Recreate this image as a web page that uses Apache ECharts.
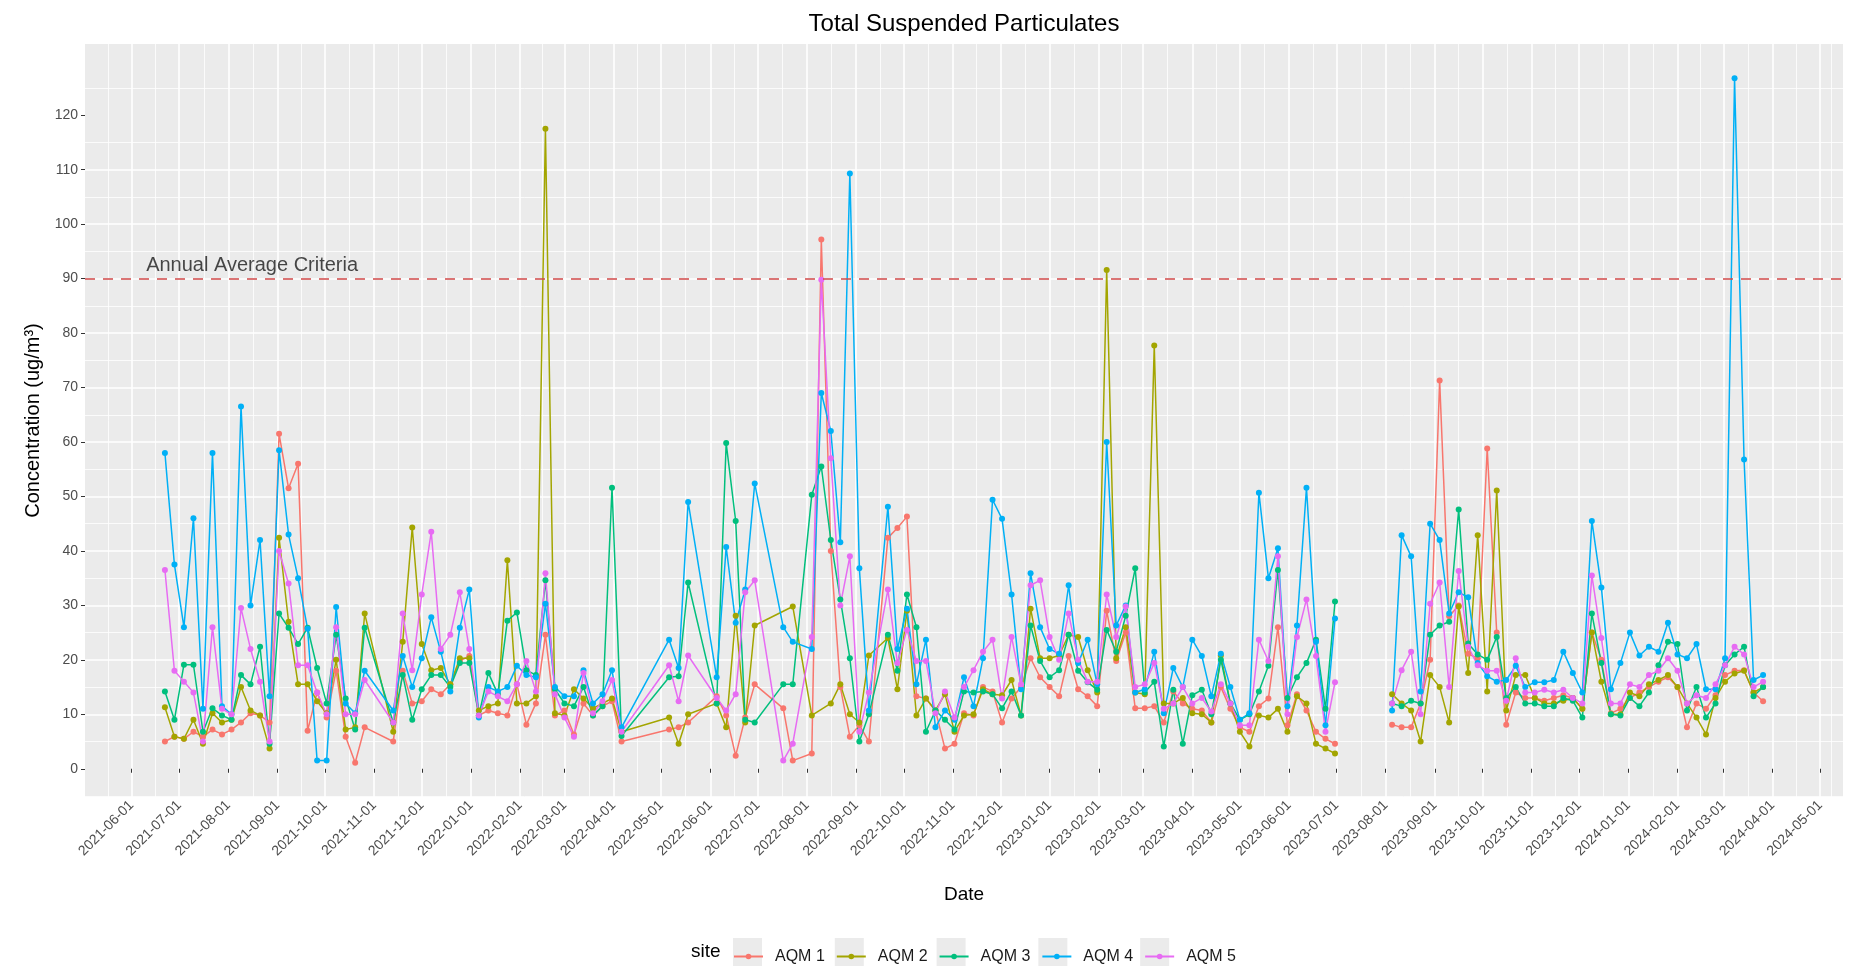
<!DOCTYPE html>
<html>
<head>
<meta charset="utf-8">
<script src="https://cdn.jsdelivr.net/npm/echarts@6/dist/echarts.min.js"></script>
<style>
  html, body { margin: 0; padding: 0; background: #ffffff; }
  #chart { width: 1856px; height: 969px; }
</style>
</head>
<body>
<div id="chart"></div>
<script>
// Sampling days (one sample every six days)
const sampleDates = [
  '2021-06-22','2021-06-28','2021-07-04','2021-07-10','2021-07-16','2021-07-22','2021-07-28','2021-08-03','2021-08-09','2021-08-15',
  '2021-08-21','2021-08-27','2021-09-02','2021-09-08','2021-09-14','2021-09-20','2021-09-26','2021-10-02','2021-10-08','2021-10-14',
  '2021-10-20','2021-10-26','2021-11-01','2021-11-07','2021-11-13','2021-11-19','2021-11-25','2021-12-01','2021-12-07','2021-12-13',
  '2021-12-19','2021-12-25','2021-12-31','2022-01-06','2022-01-12','2022-01-18','2022-01-24','2022-01-30','2022-02-05','2022-02-11',
  '2022-02-17','2022-02-23','2022-03-01','2022-03-07','2022-03-13','2022-03-19','2022-03-25','2022-03-31','2022-04-06','2022-04-12',
  '2022-04-18','2022-04-24','2022-04-30','2022-05-06','2022-05-12','2022-05-18','2022-05-24','2022-05-30','2022-06-05','2022-06-11',
  '2022-06-17','2022-06-23','2022-06-29','2022-07-05','2022-07-11','2022-07-17','2022-07-23','2022-07-29','2022-08-04','2022-08-10',
  '2022-08-16','2022-08-22','2022-08-28','2022-09-03','2022-09-09','2022-09-15','2022-09-21','2022-09-27','2022-10-03','2022-10-09',
  '2022-10-15','2022-10-21','2022-10-27','2022-11-02','2022-11-08','2022-11-14','2022-11-20','2022-11-26','2022-12-02','2022-12-08',
  '2022-12-14','2022-12-20','2022-12-26','2023-01-01','2023-01-07','2023-01-13','2023-01-19','2023-01-25','2023-01-31','2023-02-06',
  '2023-02-12','2023-02-18','2023-02-24','2023-03-02','2023-03-08','2023-03-14','2023-03-20','2023-03-26','2023-04-01','2023-04-07',
  '2023-04-13','2023-04-19','2023-04-25','2023-05-01','2023-05-07','2023-05-13','2023-05-19','2023-05-25','2023-05-31','2023-06-06',
  '2023-06-12','2023-06-18','2023-06-24','2023-06-30','2023-07-06','2023-07-12','2023-07-18','2023-07-24','2023-07-30','2023-08-05',
  '2023-08-11','2023-08-17','2023-08-23','2023-08-29','2023-09-04','2023-09-10','2023-09-16','2023-09-22','2023-09-28','2023-10-04',
  '2023-10-10','2023-10-16','2023-10-22','2023-10-28','2023-11-03','2023-11-09','2023-11-15','2023-11-21','2023-11-27','2023-12-03',
  '2023-12-09','2023-12-15','2023-12-21','2023-12-27','2024-01-02','2024-01-08','2024-01-14','2024-01-20','2024-01-26','2024-02-01',
  '2024-02-07','2024-02-13','2024-02-19','2024-02-25','2024-03-02','2024-03-08','2024-03-14','2024-03-20','2024-03-26'
];

// TSP concentrations (ug/m3). null = no sample that day, '-' = monitoring outage (line break)
const aqm1 = [
  5, 5.9, 5.5, 6.8, 5.9, 7.2, 6.3, 7.2, 8.5, 10.2,
  9.8, 8.5, 61.5, 51.5, 56, 7, 14, 9.4, 18, 5.9,
  1.1, 7.6, null, null, 5, 18, 12, 12.4, 14.6, 13.7,
  15.5, 19.8, 20.7, 9.8, 10.7, 10.2, 9.8, 15.5, 8.1, 12,
  24.6, 9.8, 10.7, 6.3, 12, 9.8, 11.5, 12.4, 5, null,
  null, null, null, 7.2, 7.6, 8.5, null, null, 13.3, 9.8,
  2.4, 9.4, 15.5, null, null, 11.1, 1.5, null, 2.8, 97.2,
  40, 15, 5.9, 8, 5, null, 42.4, 44.2, 46.3, 13.3,
  12.9, 10.7, 3.7, 4.6, 10.2, 9.8, 15, 14.2, 8.5, 12.9,
  15, 20.3, 16.8, 15, 13.3, 20.7, 14.6, 13.3, 11.5, 29,
  19.8, 25, 11.1, 11.1, 11.5, 8.5, 14.2, 12, 11, 10.7,
  8.5, 15, 11, 7.6, 6.8, 11.5, 12.9, 26, 8, 13.7,
  10.7, 6.8, 5.5, 4.6, '-', '-', '-', '-', '-', 8.1,
  7.6, 7.6, 12, 20, 71.3, 28, 30, 21.1, 20.3, 58.8,
  25, 8.1, 14, 13, 13, 12.5, 13, 13.5, 13, 11,
  25, 20, 10.2, 11, 13, 14, 15, 16, 16.8, 15,
  7.6, 12, 11, 13.5, 17.2, 18, 18.1, 14, 12.4
];
const aqm2 = [
  11.3, 5.9, 5.5, 9, 4.6, 10.2, 8.5, 9, 15, 10.7,
  9.8, 3.7, 42.4, 27, 15.5, 15.5, 12.4, 10.2, 20, 7.2,
  7.6, 28.5, null, null, 6.8, 23.3, 44.3, 22.9, 18.1, 18.5,
  15.5, 20.3, 20.3, 10.7, 11.5, 12, 38.3, 12, 12, 13.3,
  117.5, 10.2, 9.8, 14.6, 12.9, 11.1, 12, 12.9, 6.8, null,
  null, null, null, 9.4, 4.6, 10, null, null, 12, 7.6,
  28.1, 8.5, 26.3, null, null, null, 29.8, null, 9.8, null,
  12, 15.5, 10, 8.5, 20.8, null, 24, 14.6, 29, 9.8,
  12.9, 10.7, 13.7, 6.8, 9.8, 10, 14.6, 13.7, 13.5, 16.3,
  9.8, 29.4, 20.3, 20.3, 20.8, 24.6, 24.2, 18.1, 14, 91.6,
  20.3, 26, 14, 13.7, 77.7, 12, 12, 13, 10.2, 10,
  8.5, 20.8, 12, 6.8, 4.1, 9.8, 9.4, 11, 6.8, 13.3,
  12, 4.6, 3.7, 2.8, '-', '-', '-', '-', '-', 13.7,
  12, 10.7, 5, 17.2, 15, 8.5, 29.8, 17.6, 42.9, 14.2,
  51.1, 10.7, 17.2, 17.2, 13, 12, 12, 12.5, 13, 11,
  25, 16, 10, 10, 14, 13.3, 15.5, 16.3, 17.2, 15,
  12, 9.4, 6.3, 13, 16, 17.5, 18, 14, 15
];
const aqm3 = [
  14.2, 9, 19.1, 19.1, 6.8, 11.1, 9.8, 9, 17.2, 15.5,
  22.4, 4.6, 28.5, 25.9, 22.9, 25.9, 18.5, 12, 24.6, 12.9,
  7.2, 25.9, null, null, 8.5, 17.2, 9, 14.6, 17.2, 17.2,
  15, 19.4, 19.4, 9.8, 17.6, 13.7, 27.2, 28.7, 18.1, 17.2,
  34.6, 14.6, 12, 11.5, 15, 9.8, 11.5, 51.6, 6, null,
  null, null, null, 16.8, 17, 34.2, null, null, 12, 59.8,
  45.5, 9, 8.5, null, null, 15.5, 15.5, null, 50.3, 55.5,
  42, 31.1, 20.3, 5, 10, null, 24.6, 18, 32, 26,
  6.8, 10.7, 9, 7.2, 14.2, 14, 14.2, 13.7, 11.1, 14.2,
  9.8, 26.3, 19.8, 16.8, 18.1, 24.6, 18, 15.9, 14.5, 25.5,
  21.5, 28.1, 36.8, 14, 16, 4.1, 14.5, 4.6, 13.5, 14.5,
  10, 20, 12, 9, 10, 14.2, 18.9, 36.5, 13, 16.8,
  19.4, 23.7, 11, 30.7, '-', '-', '-', '-', '-', 12,
  11.5, 12.5, 12, 24.6, 26.3, 27, 47.6, 23, 21, 20,
  24.2, 13, 15, 12, 12, 11.5, 11.5, 13, 12.5, 9.4,
  28.5, 19.4, 10, 9.8, 13, 11.5, 14, 19, 23.3, 22.9,
  10.7, 15, 9.4, 12, 19, 21, 22.4, 13.3, 15
];
const aqm4 = [
  58, 37.5, 26, 46, 11, 58, 11.5, 10, 66.5, 30,
  42, 13.3, 58.5, 43, 35, 25.7, 1.5, 1.5, 29.7, 12,
  10.2, 18, null, null, 10.7, 20.7, 15, 20.3, 27.8, 21.5,
  14.2, 25.9, 32.9, 9.4, 15, 14.2, 15, 18.9, 17.2, 16.8,
  30.3, 15, 13.3, 13.3, 18.1, 12, 13.7, 18.1, 7.6, null,
  null, null, null, 23.7, 18.5, 49, null, null, 16.8, 40.7,
  26.8, 32.9, 52.4, null, null, 26, 23.3, null, 22, 69,
  62, 41.6, 109.3, 36.8, 10.7, null, 48.1, 22, 29.4, 15.5,
  23.7, 7.6, 10.7, 9, 16.8, 11.5, 20.3, 49.4, 45.9, 32,
  14.6, 35.9, 26, 22, 21.1, 33.7, 19.4, 23.7, 15.5, 60,
  26.3, 30, 14, 14.6, 21.5, 10.2, 18.5, 15, 23.7, 20.7,
  13.3, 21.1, 15, 9, 10.2, 50.7, 35, 40.5, 11.5, 26.3,
  51.6, 23.3, 8, 27.6, '-', '-', '-', '-', '-', 10.7,
  42.9, 39, 14.2, 45, 42, 28.5, 32.4, 31.5, 19.4, 17,
  16, 16.3, 18.9, 15, 15.9, 15.9, 16.3, 21.5, 17.6, 14,
  45.5, 33.3, 14.6, 19.4, 25, 20.8, 22.4, 21.5, 26.8, 21,
  20.3, 22.9, 14.6, 14.6, 20.3, 126.8, 56.8, 16.3, 17.2
];
const aqm5 = [
  36.5, 18, 16, 14, 5, 26, 11, 10, 29.5, 22,
  16, 5, 40, 34, 19, 19, 14, 10, 26, 10,
  10, 16.3, null, null, 8.5, 28.5, 18.1, 32, 43.5, 22,
  24.6, 32.4, 22, 9.8, 14.2, 13.3, 12.4, 15.5, 19.8, 14.2,
  35.9, 13.7, 9.4, 5.9, 17.6, 10.2, 12.4, 16.3, 6.8, null,
  null, null, null, 19, 12.4, 20.8, null, null, 13, 10.7,
  13.7, 32.4, 34.6, null, null, 1.5, 4.6, null, 24.2, 89.8,
  57, 30, 39, 6.8, 14, null, 32.9, 19.4, 25.5, 19.8,
  19.8, 10.2, 14.2, 9.4, 15, 18.1, 21.5, 23.7, 12.9, 24.2,
  15.5, 33.7, 34.6, 24.2, 20, 28.5, 20, 16, 16, 32,
  24.2, 29.8, 15, 15.5, 19.4, 11, 12, 15, 12, 13,
  10.5, 15.5, 12, 8, 8, 23.7, 19.8, 39, 10, 24.2,
  31.1, 20.7, 6.8, 15.9, '-', '-', '-', '-', '-', 12,
  18.1, 21.5, 10, 30.3, 34.2, 15, 36.3, 22.4, 19, 18,
  18, 12.5, 20.3, 14, 14, 14.5, 14, 14.5, 13, 12,
  35.5, 24, 12, 12, 15.5, 15, 17.2, 18, 20.3, 18,
  12, 13.5, 13, 15.5, 19, 22.4, 21, 15, 16
];

const siteNames = ['AQM 1', 'AQM 2', 'AQM 3', 'AQM 4', 'AQM 5'];
const siteValues = [aqm1, aqm2, aqm3, aqm4, aqm5];
const siteColors = ['#F8766D', '#A3A500', '#00BF7D', '#00B0F6', '#E76BF3'];

// Axis breaks: monthly date labels, concentration labels every 10
const monthTicks = [
  '2021-06-01','2021-07-01','2021-08-01','2021-09-01','2021-10-01','2021-11-01','2021-12-01',
  '2022-01-01','2022-02-01','2022-03-01','2022-04-01','2022-05-01','2022-06-01','2022-07-01',
  '2022-08-01','2022-09-01','2022-10-01','2022-11-01','2022-12-01','2023-01-01','2023-02-01',
  '2023-03-01','2023-04-01','2023-05-01','2023-06-01','2023-07-01','2023-08-01','2023-09-01',
  '2023-10-01','2023-11-01','2023-12-01','2024-01-01','2024-02-01','2024-03-01','2024-04-01',
  '2024-05-01'
];
const yTicks = [0, 10, 20, 30, 40, 50, 60, 70, 80, 90, 100, 110, 120];

// Reference line
const criteriaValue = 90;
const criteriaLabel = 'Annual Average Criteria';
const criteriaLabelPos = ['2021-08-16', 92.4];

const FONT = "'Liberation Sans', Arial, sans-serif";

function toPairs(values) {
  const out = [];
  values.forEach((v, i) => { if (v !== null) out.push([sampleDates[i], v]); });
  return out;
}
function pad2(n) { return (n < 10 ? '0' : '') + n; }
function ymd(t) {
  const d = new Date(t);
  return d.getFullYear() + '-' + pad2(d.getMonth() + 1) + '-' + pad2(d.getDate());
}
function ts(str) { return +echarts.time.parse(str); }

// Panel extents padded by 5% of the data range on each side
const tFirst = ts(sampleDates[0]);
const tLast = ts(sampleDates[sampleDates.length - 1]);
const tPad = (tLast - tFirst) * 0.05;
const nums = [].concat(...siteValues).filter(v => typeof v === 'number');
const vMin = Math.min(...nums), vMax = Math.max(...nums);
const vPad = (vMax - vMin) * 0.05;
const monthTickSet = new Set(monthTicks);

const grid = { left: 85, right: 13, top: 44, bottom: 172 };
const panelCenterX = grid.left + (1856 - grid.left - grid.right) / 2;

const seriesList = siteNames.map((name, k) => ({
  name: name,
  type: 'line',
  data: toPairs(siteValues[k]),
  symbol: 'circle',
  symbolSize: 6,
  showSymbol: true,
  connectNulls: false,
  lineStyle: { width: 1.5, color: siteColors[k] },
  itemStyle: { color: siteColors[k] },
  emphasis: { disabled: true },
  z: 3
}));

seriesList[0].markLine = {
  silent: true,
  symbol: 'none',
  data: [{ yAxis: criteriaValue }],
  lineStyle: { color: '#D04848', type: [10, 8], width: 1.6 },
  label: { show: false },
  z: 5
};

seriesList.push({
  name: 'criteria-label',
  type: 'scatter',
  data: [criteriaLabelPos],
  symbolSize: 0,
  silent: true,
  label: {
    show: true,
    position: 'inside',
    formatter: criteriaLabel,
    fontSize: 20,
    color: '#1a1a1a',
    fontFamily: FONT
  },
  z: 6
});

const legendBase = {
  orient: 'horizontal',
  left: 733,
  padding: 0,
  itemWidth: 29,
  itemGap: 11,
  selectedMode: false,
  data: siteNames
};

const option = {
  animation: false,
  backgroundColor: '#ffffff',
  textStyle: { fontFamily: FONT },
  title: [
    {
      text: 'Total Suspended Particulates',
      left: panelCenterX,
      textAlign: 'center',
      top: 12,
      padding: 0,
      textStyle: { fontSize: 24, fontWeight: 'normal', color: '#000000', fontFamily: FONT }
    },
    {
      text: 'site',
      left: 691,
      top: 942,
      padding: 0,
      textStyle: { fontSize: 19, fontWeight: 'normal', color: '#000000', fontFamily: FONT }
    }
  ],
  legend: [
    // grey key backgrounds
    Object.assign({}, legendBase, {
      top: 938,
      itemHeight: 28,
      icon: 'rect',
      itemStyle: { color: '#EBEBEB', borderWidth: 0 },
      textStyle: { fontSize: 16, color: 'rgba(0,0,0,0)', fontFamily: FONT, padding: [0, 0, 0, 7] },
      z: 1
    }),
    // line + point keys with labels
    Object.assign({}, legendBase, {
      top: 948.5,
      itemHeight: 7,
      textStyle: { fontSize: 16, color: '#1a1a1a', fontFamily: FONT, padding: [0, 0, 0, 7] },
      z: 2
    })
  ],
  grid: Object.assign({ show: true, backgroundColor: '#EBEBEB', borderWidth: 0, containLabel: false }, grid),
  xAxis: {
    type: 'time',
    min: tFirst - tPad,
    max: tLast + tPad,
    splitNumber: 36,
    axisLine: { show: false },
    axisTick: { show: true, length: 4, lineStyle: { color: '#333333', width: 1 } },
    axisLabel: {
      rotate: 45,
      margin: 6,
      fontSize: 14,
      color: '#4D4D4D',
      hideOverlap: false,
      formatter: v => (monthTickSet.has(ymd(v)) ? ymd(v) : '')
    },
    splitLine: { show: true, showMinLine: false, showMaxLine: false, lineStyle: { color: '#ffffff', width: 1.6 } },
    minorTick: { show: false, splitNumber: 2 },
    minorSplitLine: { show: true, lineStyle: { color: '#ffffff', width: 0.8 } },
    name: 'Date',
    nameLocation: 'middle',
    nameGap: 88,
    nameTextStyle: { fontSize: 19, color: '#000000', fontFamily: FONT }
  },
  yAxis: {
    type: 'value',
    min: vMin - vPad,
    max: vMax + vPad,
    splitNumber: 14,
    minInterval: 10,
    maxInterval: 10,
    axisLine: { show: false },
    axisTick: { show: true, length: 4, customValues: yTicks, lineStyle: { color: '#333333', width: 1 } },
    axisLabel: {
      customValues: yTicks,
      margin: 7,
      fontSize: 14,
      color: '#4D4D4D',
      formatter: v => (yTicks.indexOf(Math.round(v * 1000) / 1000) >= 0 ? String(v) : '')
    },
    splitLine: { show: true, showMinLine: false, showMaxLine: false, lineStyle: { color: '#ffffff', width: 1.6 } },
    minorTick: { show: false, splitNumber: 2 },
    minorSplitLine: { show: true, lineStyle: { color: '#ffffff', width: 0.8 } },
    name: 'Concentration (ug/m³)',
    nameLocation: 'middle',
    nameGap: 42,
    nameTextStyle: { fontSize: 20, color: '#000000', fontFamily: FONT }
  },
  series: seriesList
};

const chart = echarts.init(document.getElementById('chart'), null, { renderer: 'canvas' });
chart.setOption(option);
</script>
</body>
</html>
